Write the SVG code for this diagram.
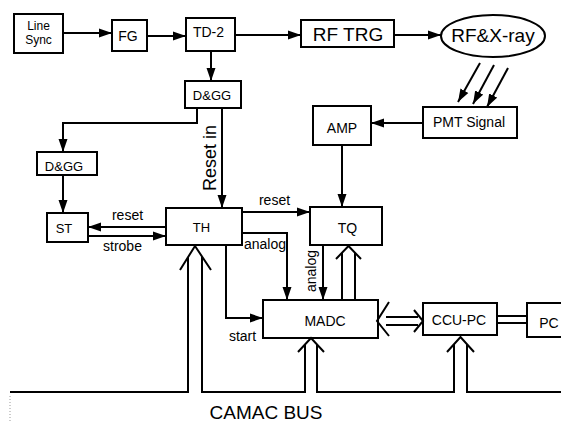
<svg xmlns="http://www.w3.org/2000/svg" width="561" height="423" viewBox="0 0 561 423">
<style>
.box{fill:#fff;stroke:#000;stroke-width:2}
text{font-family:"Liberation Sans",Arial,sans-serif;fill:#000;text-anchor:middle}
.t12{font-size:12px}
.t13{font-size:13px}
.t14{font-size:14px}
.t19{font-size:19px}
.w{fill:none;stroke:#000;stroke-width:2}
.a{marker-end:url(#ah)}
</style>
<defs>
<marker id="ah" markerUnits="userSpaceOnUse" markerWidth="14" markerHeight="10" refX="13" refY="5" orient="auto">
<path d="M0,0.5 L13,5 L0,9.5 z" fill="#000"/>
</marker>
</defs>
<rect width="561" height="423" fill="#fff"/>
<g id="linesync"><rect class="box" x="14" y="14" width="49" height="39"/><text class="t12" x="38.5" y="30">Line</text><text class="t12" x="38.5" y="44">Sync</text></g>
<g id="fg"><rect class="box" x="112" y="20" width="35" height="31"/><text class="t14" x="128" y="41">FG</text></g>
<g id="td2"><rect class="box" x="186" y="18" width="49" height="33"/><text class="t14" x="208.5" y="37">TD-2</text></g>
<g id="rftrg"><rect class="box" x="301" y="20" width="93" height="27"/><text class="t19" x="348" y="41">RF TRG</text></g>
<g id="rfxray"><ellipse class="box" cx="493" cy="36" rx="52" ry="21"/><text class="t19" x="493" y="42">RF&amp;X-ray</text></g>
<g id="dgg1"><rect class="box" x="185" y="81" width="56" height="27"/><text class="t13" x="212" y="100">D&amp;GG</text></g>
<g id="dgg2"><rect class="box" x="37" y="152" width="60" height="23"/><text class="t13" x="64" y="171">D&amp;GG</text></g>
<g id="st"><rect class="box" x="47" y="213" width="41" height="29"/><text class="t13" x="64" y="233">ST</text></g>
<g id="th"><rect class="box" x="166" y="208" width="76" height="37"/><text class="t13" x="201.5" y="232">TH</text></g>
<g id="tq"><rect class="box" x="310" y="207" width="72" height="38"/><text class="t14" x="347.5" y="233">TQ</text></g>
<g id="amp"><rect class="box" x="313" y="106" width="58" height="39"/><text class="t14" x="342" y="133">AMP</text></g>
<g id="pmt"><rect class="box" x="423" y="107" width="94" height="31"/><text class="t14" x="469" y="127">PMT Signal</text></g>
<g id="madc"><rect class="box" x="263" y="300" width="115" height="38"/><text class="t14" x="325" y="326">MADC</text></g>
<g id="ccupc"><rect class="box" x="423" y="303" width="74" height="32"/><text class="t14" x="459" y="325">CCU-PC</text></g>
<g id="pc"><rect class="box" x="527" y="303" width="40" height="34"/><text class="t14" x="549" y="328">PC</text></g>
<g id="connectors">
<path class="w a" d="M63,33 H112"/>
<path class="w a" d="M147,36 H186"/>
<path class="w a" d="M235,35 H301"/>
<path class="w a" d="M394,35 H441"/>
<path class="w a" d="M211,51 V81"/>
<path class="w a" d="M197,108 V123 H63 V152"/>
<path class="w a" d="M222,108 V208"/>
<path class="w a" d="M63,175 V213"/>
<path class="w a" d="M166,227 H88"/>
<path class="w a" d="M88,236 H166"/>
<path class="w a" d="M242,212 H310"/>
<path class="w a" d="M423,123 H371"/>
<path class="w a" d="M342,145 V207"/>
<path class="w a" d="M242,233 H287 V300"/>
<path class="w a" d="M226,245 V318 H263"/>
<path class="w a" d="M323,245 V300"/>
<path class="w a" d="M480,63 L458,102"/>
<path class="w a" d="M494,65 L473,104"/>
<path class="w a" d="M508,68 L487,107"/>
<path class="w" d="M342,300 V253 M355,300 V253 M336,259 L348.5,246 L361,259"/>
<path class="w" d="M10,392 H188 V257 M202,257 V392 H305 V345 M317,345 V392 H454 V344 M467,344 V392 H561"/>
<path class="w" d="M180,270 L195,246 L211,270"/>
<path class="w" d="M298,352 L311,338 L324,352"/>
<path class="w" d="M447,352 L460.5,337 L474,352"/>
<path class="w" d="M386,317 H418 M386,325 H418 M389,302 L377,321 L389,336 M414,310 L423,321 L414,332"/>
<path class="w" d="M497,316 H527 M497,323 H527"/>
<path d="M10,396 V423" fill="none" stroke="#999" stroke-width="1" stroke-dasharray="1,2"/>
</g>
<g id="labels">
<text class="t14" x="274.5" y="205">reset</text>
<text class="t14" x="127.5" y="220">reset</text>
<text class="t14" x="122.5" y="251">strobe</text>
<text class="t14" x="265" y="249">analog</text>
<text class="t14" x="242.5" y="341">start</text>
<text class="t14" transform="translate(316,271) rotate(-90)">analog</text>
<text style="font-size:18px" transform="translate(216,158) rotate(-90)">Reset in</text>
<text class="t19" x="266" y="419">CAMAC BUS</text>
</g>
</svg>
